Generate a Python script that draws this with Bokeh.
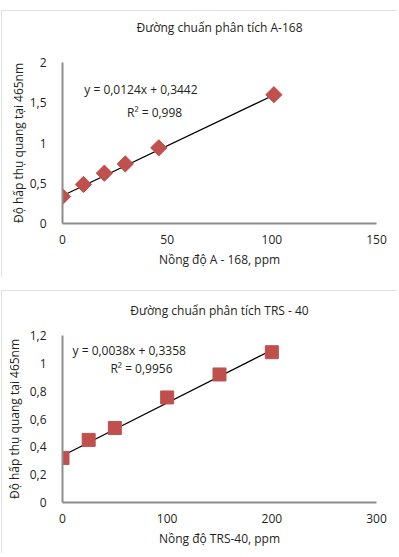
from bokeh.plotting import figure
from bokeh.models import Range1d, FixedTicker, CustomJSTickFormatter, Label, LinearAxis
from bokeh.layouts import column
from bokeh.embed import file_html
from bokeh.resources import INLINE
import numpy as np

# ---- data: chart A-168 ----
title_a = "Đường chuẩn phân tích A-168"
xlabel_a = "Nồng độ A - 168, ppm"
x_a = [0, 10, 20, 30, 46, 101]
y_a = [0.335, 0.485, 0.625, 0.74, 0.94, 1.60]
slope_a, intercept_a = 0.0124, 0.3442
eq_a = "y = 0,0124x + 0,3442"
r2_a = "R² = 0,998"
xticks_a = [0, 50, 100, 150]
yticks_a = [0, 0.5, 1, 1.5, 2]

# ---- data: chart TRS-40 ----
title_b = "Đường chuẩn phân tích TRS - 40"
xlabel_b = "Nồng độ TRS-40, ppm"
x_b = [0, 25, 50, 100, 150, 200]
y_b = [0.32, 0.45, 0.535, 0.755, 0.92, 1.08]
slope_b, intercept_b = 0.0038, 0.3358
eq_b = "y = 0,0038x + 0,3358"
r2_b = "R² = 0,9956"
xticks_b = [0, 100, 200, 300]
yticks_b = [0, 0.2, 0.4, 0.6, 0.8, 1.0, 1.2]

ylabel = "Độ hấp thụ quang tại 465nm"

FONT = "Open Sans"
TXT = "#231f20"
AX = "#8c8c8c"
RED = "#c0504d"

fmt = CustomJSTickFormatter(code="return (Math.round(tick*10)/10).toString().replace('.', ',');")


def lab(p, x, y, text):
    p.add_layout(Label(x=x, y=y, text=text, text_font=FONT, text_font_size="12px",
                       text_color=TXT, text_baseline="middle", text_align="left"))


def style_label(ax):
    ax.axis_label_text_font = FONT
    ax.axis_label_text_font_size = "12px"
    ax.axis_label_text_font_style = "normal"
    ax.axis_label_text_color = TXT


def make(title, xlabel, xs, ys, slope, intercept, xt, yt, xmax, ymax, h,
         mbt, mbl, mbb, mbr, marker, msize, angle, title_standoff,
         ytick_standoff, ylab_standoff, mtop):
    p = figure(width=396, height=h, output_backend="svg", toolbar_location=None,
               x_range=Range1d(0, xmax), y_range=Range1d(0, ymax),
               min_border_top=mbt, min_border_left=mbl, min_border_bottom=mbb,
               min_border_right=mbr)
    p.margin = (mtop, 0, 0, 1)
    p.styles = {"outline": "3px solid #d9d9d9", "outline-offset": "-3px"}
    p.outline_line_color = None
    p.xgrid.visible = False
    p.ygrid.visible = False
    for ax in (p.xaxis[0], p.yaxis[0]):
        ax.axis_line_color = AX
        ax.axis_line_width = 2
        ax.major_tick_line_color = None
        ax.minor_tick_line_color = None
        ax.major_label_text_font = FONT
        ax.major_label_text_font_size = "12px"
        ax.major_label_text_color = TXT
        ax.formatter = fmt
        style_label(ax)
    p.xaxis.ticker = FixedTicker(ticks=xt)
    p.yaxis.ticker = FixedTicker(ticks=yt)
    p.xaxis.axis_label = xlabel
    p.yaxis.axis_label = ylabel
    p.xaxis.major_label_standoff = 5
    p.xaxis.axis_label_standoff = 4
    p.yaxis.major_label_standoff = ytick_standoff
    p.yaxis.axis_label_standoff = ylab_standoff
    p.yaxis.major_label_orientation = "horizontal"

    # chart title as label of a blank axis above the plot
    top = LinearAxis(ticker=FixedTicker(ticks=[]), axis_line_color=None,
                     major_tick_line_color=None, minor_tick_line_color=None,
                     major_label_standoff=0, major_tick_out=0, major_tick_in=0,
                     axis_label=title, axis_label_standoff=title_standoff)
    style_label(top)
    p.add_layout(top, "above")

    tx = [0, xs[-1]]
    ty = [intercept, intercept + slope * xs[-1]]
    p.line(tx, ty, line_color="black", line_width=1.2)
    p.scatter(xs, ys, marker=marker, size=msize, angle=angle,
              fill_color=RED, line_color=RED)
    return p


p1 = make(title_a, xlabel_a, x_a, y_a, slope_a, intercept_a, xticks_a, yticks_a, 150, 2,
          h=267, mbt=52, mbl=59, mbb=54, mbr=20, marker="square", msize=11.5,
          angle=np.pi / 4, title_standoff=27, ytick_standoff=10, ylab_standoff=0, mtop=10)
lab(p1, 10.4, 1.665, eq_a)
lab(p1, 30.8, 1.379, r2_a)

p2 = make(title_b, xlabel_b, x_b, y_b, slope_b, intercept_b, xticks_b, yticks_b, 300, 1.2,
          h=263, mbt=45, mbl=61, mbb=51, mbr=21, marker="square", msize=13,
          angle=0, title_standoff=17, ytick_standoff=10, ylab_standoff=4, mtop=13)
lab(p2, 9.6, 1.092, eq_b)
lab(p2, 45.8, 0.963, r2_b)

layout = column(p1, p2, spacing=0)
open("out.html", "w").write(file_html(layout, INLINE))
